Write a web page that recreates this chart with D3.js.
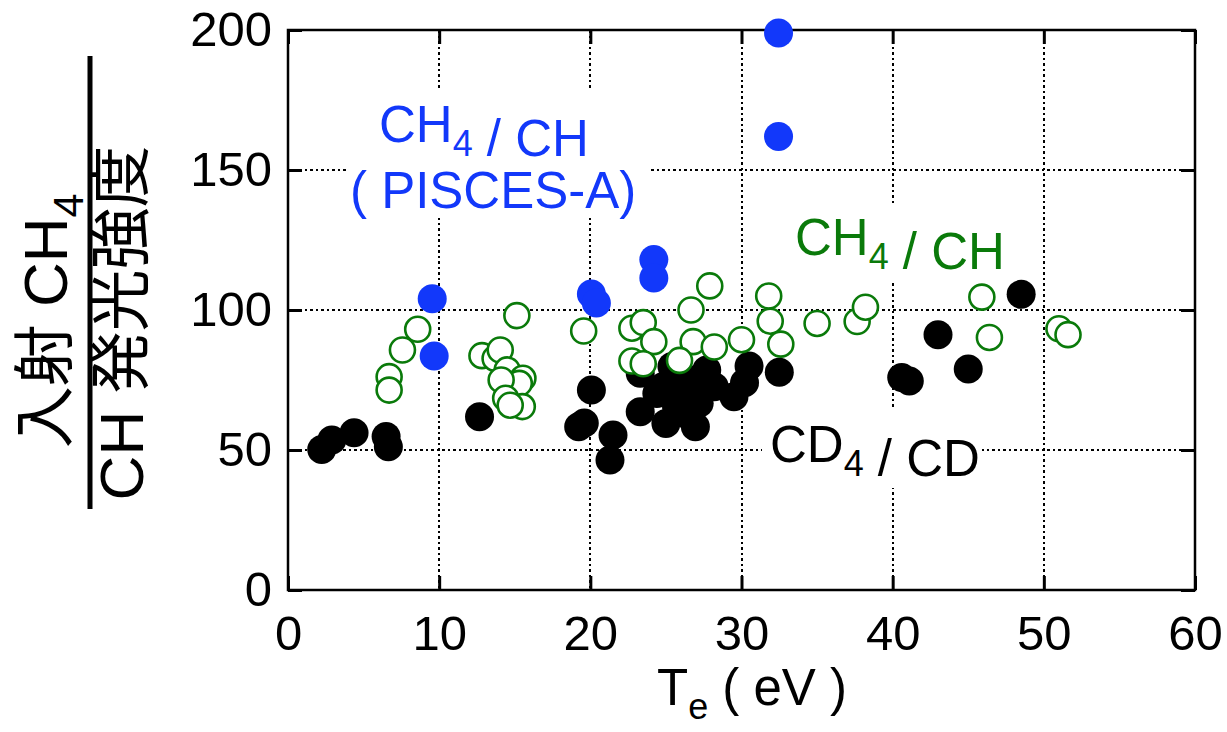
<!DOCTYPE html>
<html>
<head>
<meta charset="utf-8">
<script src="https://cdn.jsdelivr.net/npm/d3@7"></script>
<style>
  html, body { margin: 0; padding: 0; background: #fff; }
  svg { display: block; }
  text { font-family: "Liberation Sans", Arial, "Noto Sans CJK JP", sans-serif; }
</style>
</head>
<body>
<svg id="chart" width="1227" height="732"></svg>
<script>
// Tick values
const xTicks = [0, 10, 20, 30, 40, 50, 60];
const yTicks = [0, 50, 100, 150, 200];
const xGrid = [10, 20, 30, 40, 50];
const yGrid = [50, 100, 150];

// CH4 / CH, PISCES-A (blue, filled)
const blueTe    = [32.45, 32.45, 9.54, 9.67, 20.07, 20.4, 24.2, 24.2];
const blueRatio = [198.9, 162.0, 104.0, 83.6, 105.7, 102.5, 118.0, 111.4];

// CH4 / CH (green, open)
const greenTe = [8.58, 7.57, 6.69, 6.69, 15.14, 12.83, 13.7, 14.04, 14.5, 15.54, 15.3, 14.1, 14.4, 15.5, 14.7,
                 19.56, 22.75, 23.5, 24.2, 22.75, 23.5, 26.66, 27.9, 26.8, 28.2, 25.9, 30.0, 31.8, 31.9, 32.6,
                 35.0, 37.65, 38.2, 45.9, 46.4, 51.0, 51.6];
const greenRatio = [93.1, 85.7, 76.2, 71.4, 98.0, 83.7, 82.7, 85.7, 78.6, 75.6, 73.8, 75.0, 68.5, 65.5, 66.0,
                    92.5, 93.5, 95.5, 88.7, 81.8, 80.8, 100.0, 108.6, 88.7, 86.8, 82.0, 89.4, 105.0, 96.0, 87.8,
                    95.2, 95.9, 101.0, 104.6, 90.2, 93.3, 91.2];

// CD4 / CD (black, filled)
const blackTe = [2.23, 2.9, 4.37, 6.49, 6.64, 12.67, 20.07, 19.23, 19.6, 21.5, 21.3, 23.3, 23.3, 25.4, 24.4,
                 25.0, 26.95, 26.3, 27.2, 27.7, 26.8, 28.2, 29.5, 30.2, 30.5, 25.6, 25.7, 26.6, 24.8, 32.5,
                 40.6, 41.1, 43.0, 45.0, 48.5];
const blackRatio = [50.2, 53.6, 56.2, 54.8, 51.2, 61.9, 71.4, 58.3, 59.6, 55.4, 46.4, 63.7, 77.4, 79.8, 70.2,
                    59.5, 58.3, 69.0, 66.7, 78.6, 75.0, 72.6, 69.0, 74.0, 80.0, 73.8, 65.5, 61.9, 72.6, 77.8,
                    75.9, 74.6, 91.2, 78.9, 105.6];

const BLUE = "#1238fa", GREEN = "#0a7a0a", BLACK = "#000";

const svg = d3.select("#chart");
const L = 288, R = 1195, T = 30, B = 590;
const x = d3.scaleLinear().domain([0, 60]).range([L, R]);
const y = d3.scaleLinear().domain([0, 200]).range([B, T]);

// dotted grid
const grid = svg.append("g").attr("stroke", "#000").attr("stroke-width", 2.5)
  .attr("stroke-dasharray", "2.5,3").attr("shape-rendering", "crispEdges");
grid.selectAll("line.v").data(xGrid).join("line").attr("class", "v")
  .attr("x1", d => Math.round(x(d))).attr("x2", d => Math.round(x(d))).attr("y1", T).attr("y2", B);
grid.selectAll("line.h").data(yGrid).join("line").attr("class", "h")
  .attr("x1", L).attr("x2", R).attr("y1", d => Math.round(y(d))).attr("y2", d => Math.round(y(d)));

// white boxes behind the in-plot labels
const boxes = [
  {x0: 347, x1: 650, y0: 89, y1: 218},
  {x0: 785, x1: 1010, y0: 205, y1: 280},
  {x0: 762, x1: 982, y0: 410, y1: 488}
];
svg.append("g").selectAll("rect").data(boxes).join("rect")
  .attr("x", d => d.x0).attr("y", d => d.y0)
  .attr("width", d => d.x1 - d.x0).attr("height", d => d.y1 - d.y0)
  .attr("fill", "#fff");

// axes: inward ticks on all four sides
function styleAxis(g) {
  g.select(".domain").remove();
  g.selectAll(".tick line").attr("stroke", "#000").attr("stroke-width", 3);
  g.selectAll(".tick text").attr("fill", "#000").attr("font-size", 49)
    .attr("font-family", "'Liberation Sans', Arial, sans-serif");
}
svg.append("g").attr("transform", `translate(0,${B})`)
  .call(d3.axisBottom(x).tickValues(xTicks).tickSize(-14).tickPadding(25))
  .call(styleAxis);
svg.append("g").attr("transform", `translate(0,${T})`)
  .call(d3.axisTop(x).tickValues(xTicks).tickSize(-14).tickFormat(""))
  .call(styleAxis);
svg.append("g").attr("transform", `translate(${L},0)`)
  .call(d3.axisLeft(y).tickValues(yTicks).tickSize(-14).tickPadding(16))
  .call(styleAxis);
svg.append("g").attr("transform", `translate(${R},0)`)
  .call(d3.axisRight(y).tickValues(yTicks).tickSize(-14).tickFormat(""))
  .call(styleAxis);

// frame
svg.append("rect").attr("x", L).attr("y", T).attr("width", R - L).attr("height", B - T)
  .attr("fill", "none").attr("stroke", "#000").attr("stroke-width", 2.5);

// points
const toPts = (xs, ys) => xs.map((v, i) => [v, ys[i]]);
svg.append("g").selectAll("circle").data(toPts(blackTe, blackRatio)).join("circle")
  .attr("cx", d => x(d[0])).attr("cy", d => y(d[1])).attr("r", 14.5).attr("fill", BLACK);
svg.append("g").selectAll("circle").data(toPts(greenTe, greenRatio)).join("circle")
  .attr("cx", d => x(d[0])).attr("cy", d => y(d[1])).attr("r", 12.5)
  .attr("fill", "#fff").attr("stroke", GREEN).attr("stroke-width", 2.6);
svg.append("g").selectAll("circle").data(toPts(blueTe, blueRatio)).join("circle")
  .attr("cx", d => x(d[0])).attr("cy", d => y(d[1])).attr("r", 14.5).attr("fill", BLUE);

// in-plot labels with subscripts
function label(xp, yp, parts, color) {
  const t = svg.append("text").attr("x", xp).attr("y", yp).attr("fill", color).attr("font-size", 51);
  parts.forEach(p => {
    if (p.sub) {
      t.append("tspan").attr("font-size", 36).attr("dy", 14).text(p.sub);
      t.append("tspan").attr("dy", -14).text("");
    } else {
      t.append("tspan").text(p.t);
    }
  });
  return t;
}
label(379, 142, [{t: "CH"}, {sub: "4"}, {t: " / CH"}], BLUE);
label(350, 208, [{t: "( PISCES-A)"}], BLUE);
label(795, 255, [{t: "CH"}, {sub: "4"}, {t: " / CH"}], GREEN);
label(770, 462, [{t: "CD"}, {sub: "4"}, {t: " / CD"}], BLACK);

// x-axis title
const xt = svg.append("text").attr("x", 752).attr("y", 705).attr("text-anchor", "middle")
  .attr("font-size", 51).attr("fill", "#000");
xt.append("tspan").text("T");
xt.append("tspan").attr("font-size", 36).attr("dy", 14).text("e");
xt.append("tspan").attr("dy", -14).text(" ( eV )");

// y-axis title as a fraction
const yTop = svg.append("text").attr("transform", "translate(67,321) rotate(-90)")
  .attr("text-anchor", "middle").attr("font-size", 62).attr("fill", "#000");
yTop.append("tspan").text("入射 CH");
yTop.append("tspan").attr("font-size", 43).attr("dy", 16).text("4");
svg.append("line").attr("x1", 90).attr("x2", 90).attr("y1", 56).attr("y2", 509)
  .attr("stroke", "#000").attr("stroke-width", 5);
svg.append("text").attr("transform", "translate(143,323) rotate(-90)")
  .attr("text-anchor", "middle").attr("font-size", 62).attr("fill", "#000")
  .text("CH 発光強度");
</script>
</body>
</html>
